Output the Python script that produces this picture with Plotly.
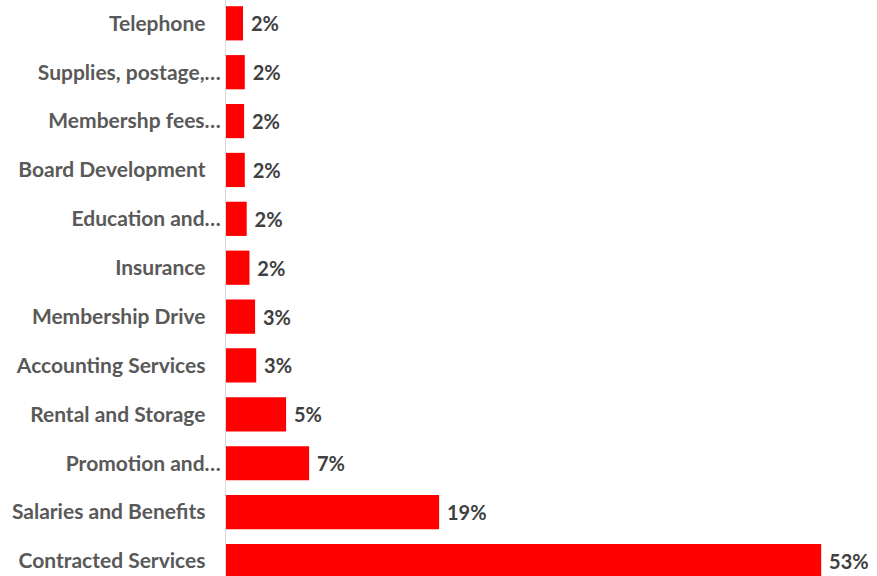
import plotly.graph_objects as go

categories = ["Contracted Services", "Salaries and Benefits", "Promotion and...", "Rental and Storage",
              "Accounting Services", "Membership Drive", "Insurance", "Education and...",
              "Board Development", "Membershp fees...", "Supplies, postage,...", "Telephone"]
tick_labels = ["Contracted Services", "Salaries and Benefits", "Promotion and…", "Rental and Storage",
               "Accounting Services", "Membership Drive", "Insurance", "Education and…",
               "Board Development", "Membershp fees…", "Supplies, postage,…", "Telephone"]
values = [53.2, 19.05, 7.43, 5.37, 2.7, 2.6, 2.1, 1.85, 1.68, 1.62, 1.68, 1.52]

pad = "\u00a0" * 3
ticktext = [t if t.endswith("…") else t + pad for t in tick_labels]

fig = go.Figure(go.Bar(
    y=categories, x=values, orientation="h",
    marker=dict(color="#FF0000", line=dict(width=0)),
    texttemplate="\u00a0%{x:.0f}%", textposition="outside",
    textfont=dict(family="Lato", size=20, color="#404040", weight="bold"),
    cliponaxis=False,
))

fig.update_layout(
    width=877, height=576,
    margin=dict(l=226, r=20, t=0, b=0, autoexpand=False),
    plot_bgcolor="white", paper_bgcolor="white",
    bargap=0.3, showlegend=False,
    xaxis=dict(range=[0, 56.4], showgrid=False, showticklabels=False, zeroline=False,
               showline=False, fixedrange=True, automargin=False),
    yaxis=dict(type="category", categoryorder="array", categoryarray=categories,
               tickmode="array", tickvals=categories, ticktext=ticktext,
               range=[-0.307, 11.477], showgrid=False, zeroline=False,
               showline=True, linecolor="#D9D9D9", linewidth=1, ticks="",
               ticklabelstandoff=0, automargin=False,
               tickfont=dict(family="Lato", size=21, color="#595959", weight="bold")),
)

fig.write_html("out.html", config={"displayModeBar": False},
               post_script="document.body.style.margin='0';document.body.style.overflow='hidden';")
